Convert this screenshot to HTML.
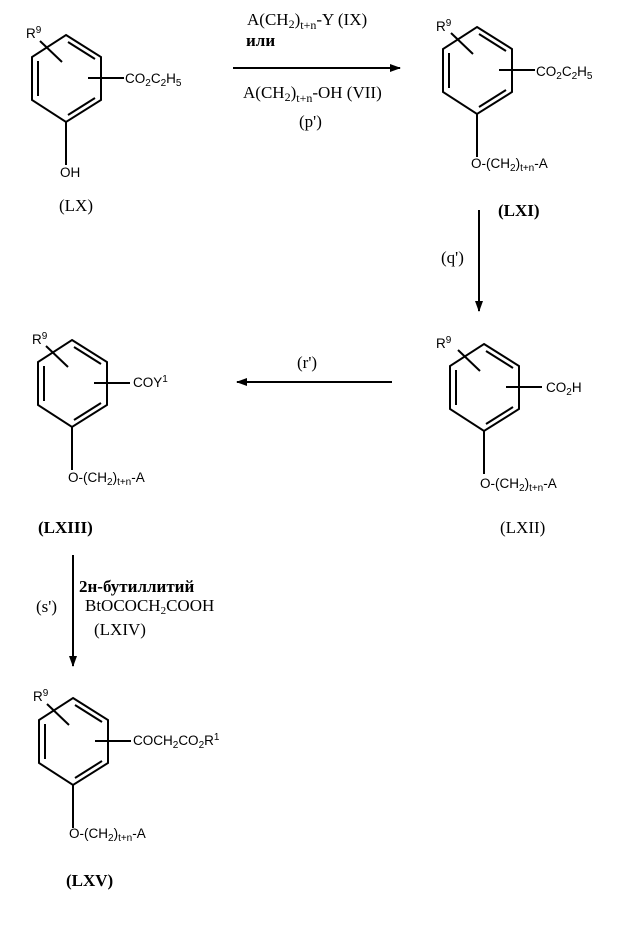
<!DOCTYPE html>
<html><head><meta charset="utf-8"><style>
html,body{margin:0;padding:0;background:#fff;}
svg{display:block;}
.s{font-family:"Liberation Sans",sans-serif;font-size:13.5px;fill:#000;}
.r{font-family:"Liberation Serif","DejaVu Serif",serif;font-size:17px;fill:#000;}
.b{font-weight:bold;}
</style></head><body>
<svg width="636" height="929" viewBox="0 0 636 929" xmlns="http://www.w3.org/2000/svg">
<defs>
<g id="ring" stroke="#000" stroke-width="2" fill="none">
<polygon points="0,0 35,22 35,65 0,87 -34,65 -34,22"/>
<line x1="2" y1="7" x2="29" y2="24"/>
<line x1="2" y1="80" x2="29" y2="63"/>
<line x1="-28" y1="26" x2="-28" y2="61"/>
<line x1="22" y1="43" x2="58" y2="43"/>
<line x1="-26" y1="6" x2="-4" y2="27"/>
<line x1="0" y1="87" x2="0" y2="130"/>
</g>
<marker id="ah" markerWidth="11" markerHeight="8" refX="10" refY="4" orient="auto" markerUnits="userSpaceOnUse">
<path d="M0,0 L11,4 L0,8 z" fill="#000"/>
</marker>
</defs>

<!-- LX -->
<use href="#ring" x="66" y="35"/>
<text class="s" x="26" y="38">R<tspan font-size="10" dy="-5">9</tspan></text>
<text class="s" x="125" y="83">CO<tspan font-size="10" dy="3">2</tspan><tspan dy="-3">C</tspan><tspan font-size="10" dy="3">2</tspan><tspan dy="-3">H</tspan><tspan font-size="10" dy="3">5</tspan></text>
<text class="s" x="60" y="177">OH</text>
<text class="r" x="59" y="211">(LX)</text>

<!-- top arrow -->
<line x1="233" y1="68" x2="400" y2="68" stroke="#000" stroke-width="2" marker-end="url(#ah)"/>
<text class="r" x="247" y="25">A(CH<tspan font-size="12" dy="3">2</tspan><tspan dy="-3">)</tspan><tspan font-size="12" dy="4">t+n</tspan><tspan dy="-4">-Y (IX)</tspan></text>
<text class="r b" x="246" y="46" font-size="15">или</text>
<text class="r" x="243" y="98">A(CH<tspan font-size="12" dy="3">2</tspan><tspan dy="-3">)</tspan><tspan font-size="12" dy="4">t+n</tspan><tspan dy="-4">-OH (VII)</tspan></text>
<text class="r" x="299" y="127">(p')</text>

<!-- LXI -->
<use href="#ring" x="477" y="27"/>
<text class="s" x="436" y="31">R<tspan font-size="10" dy="-5">9</tspan></text>
<text class="s" x="536" y="76">CO<tspan font-size="10" dy="3">2</tspan><tspan dy="-3">C</tspan><tspan font-size="10" dy="3">2</tspan><tspan dy="-3">H</tspan><tspan font-size="10" dy="3">5</tspan></text>
<text class="s" x="471" y="168">O-(CH<tspan font-size="10" dy="3">2</tspan><tspan dy="-3">)</tspan><tspan font-size="10" dy="3">t+n</tspan><tspan dy="-3">-A</tspan></text>
<text class="r b" x="498" y="216">(LXI)</text>

<!-- q arrow -->
<line x1="479" y1="210" x2="479" y2="311" stroke="#000" stroke-width="2" marker-end="url(#ah)"/>
<text class="r" x="441" y="263">(q')</text>

<!-- LXII -->
<use href="#ring" x="484" y="344"/>
<text class="s" x="436" y="348">R<tspan font-size="10" dy="-5">9</tspan></text>
<text class="s" x="546" y="392">CO<tspan font-size="10" dy="3">2</tspan><tspan dy="-3">H</tspan></text>
<text class="s" x="480" y="488">O-(CH<tspan font-size="10" dy="3">2</tspan><tspan dy="-3">)</tspan><tspan font-size="10" dy="3">t+n</tspan><tspan dy="-3">-A</tspan></text>
<text class="r" x="500" y="533">(LXII)</text>

<!-- r arrow -->
<line x1="392" y1="382" x2="237" y2="382" stroke="#000" stroke-width="2" marker-end="url(#ah)"/>
<text class="r" x="297" y="368">(r')</text>

<!-- LXIII -->
<use href="#ring" x="72" y="340"/>
<text class="s" x="32" y="344">R<tspan font-size="10" dy="-5">9</tspan></text>
<text class="s" x="133" y="387">COY<tspan font-size="10" dy="-5">1</tspan></text>
<text class="s" x="68" y="482">O-(CH<tspan font-size="10" dy="3">2</tspan><tspan dy="-3">)</tspan><tspan font-size="10" dy="3">t+n</tspan><tspan dy="-3">-A</tspan></text>
<text class="r b" x="38" y="533" font-size="16">(LXIII)</text>

<!-- s arrow -->
<line x1="73" y1="555" x2="73" y2="666" stroke="#000" stroke-width="2" marker-end="url(#ah)"/>
<text class="r" x="36" y="612">(s')</text>
<text class="r b" x="79" y="592" font-size="16">2н-бутиллитий</text>
<text class="r" x="85" y="611" font-size="15">BtOCOCH<tspan font-size="11" dy="3">2</tspan><tspan dy="-3">COOH</tspan></text>
<text class="r" x="94" y="635" font-size="15">(LXIV)</text>

<!-- LXV -->
<use href="#ring" x="73" y="698"/>
<text class="s" x="33" y="701">R<tspan font-size="10" dy="-5">9</tspan></text>
<text class="s" x="133" y="745">COCH<tspan font-size="10" dy="3">2</tspan><tspan dy="-3">CO</tspan><tspan font-size="10" dy="3">2</tspan><tspan dy="-3">R</tspan><tspan font-size="10" dy="-5">1</tspan></text>
<text class="s" x="69" y="838">O-(CH<tspan font-size="10" dy="3">2</tspan><tspan dy="-3">)</tspan><tspan font-size="10" dy="3">t+n</tspan><tspan dy="-3">-A</tspan></text>
<text class="r b" x="66" y="886" font-size="16">(LXV)</text>
</svg>
</body></html>
